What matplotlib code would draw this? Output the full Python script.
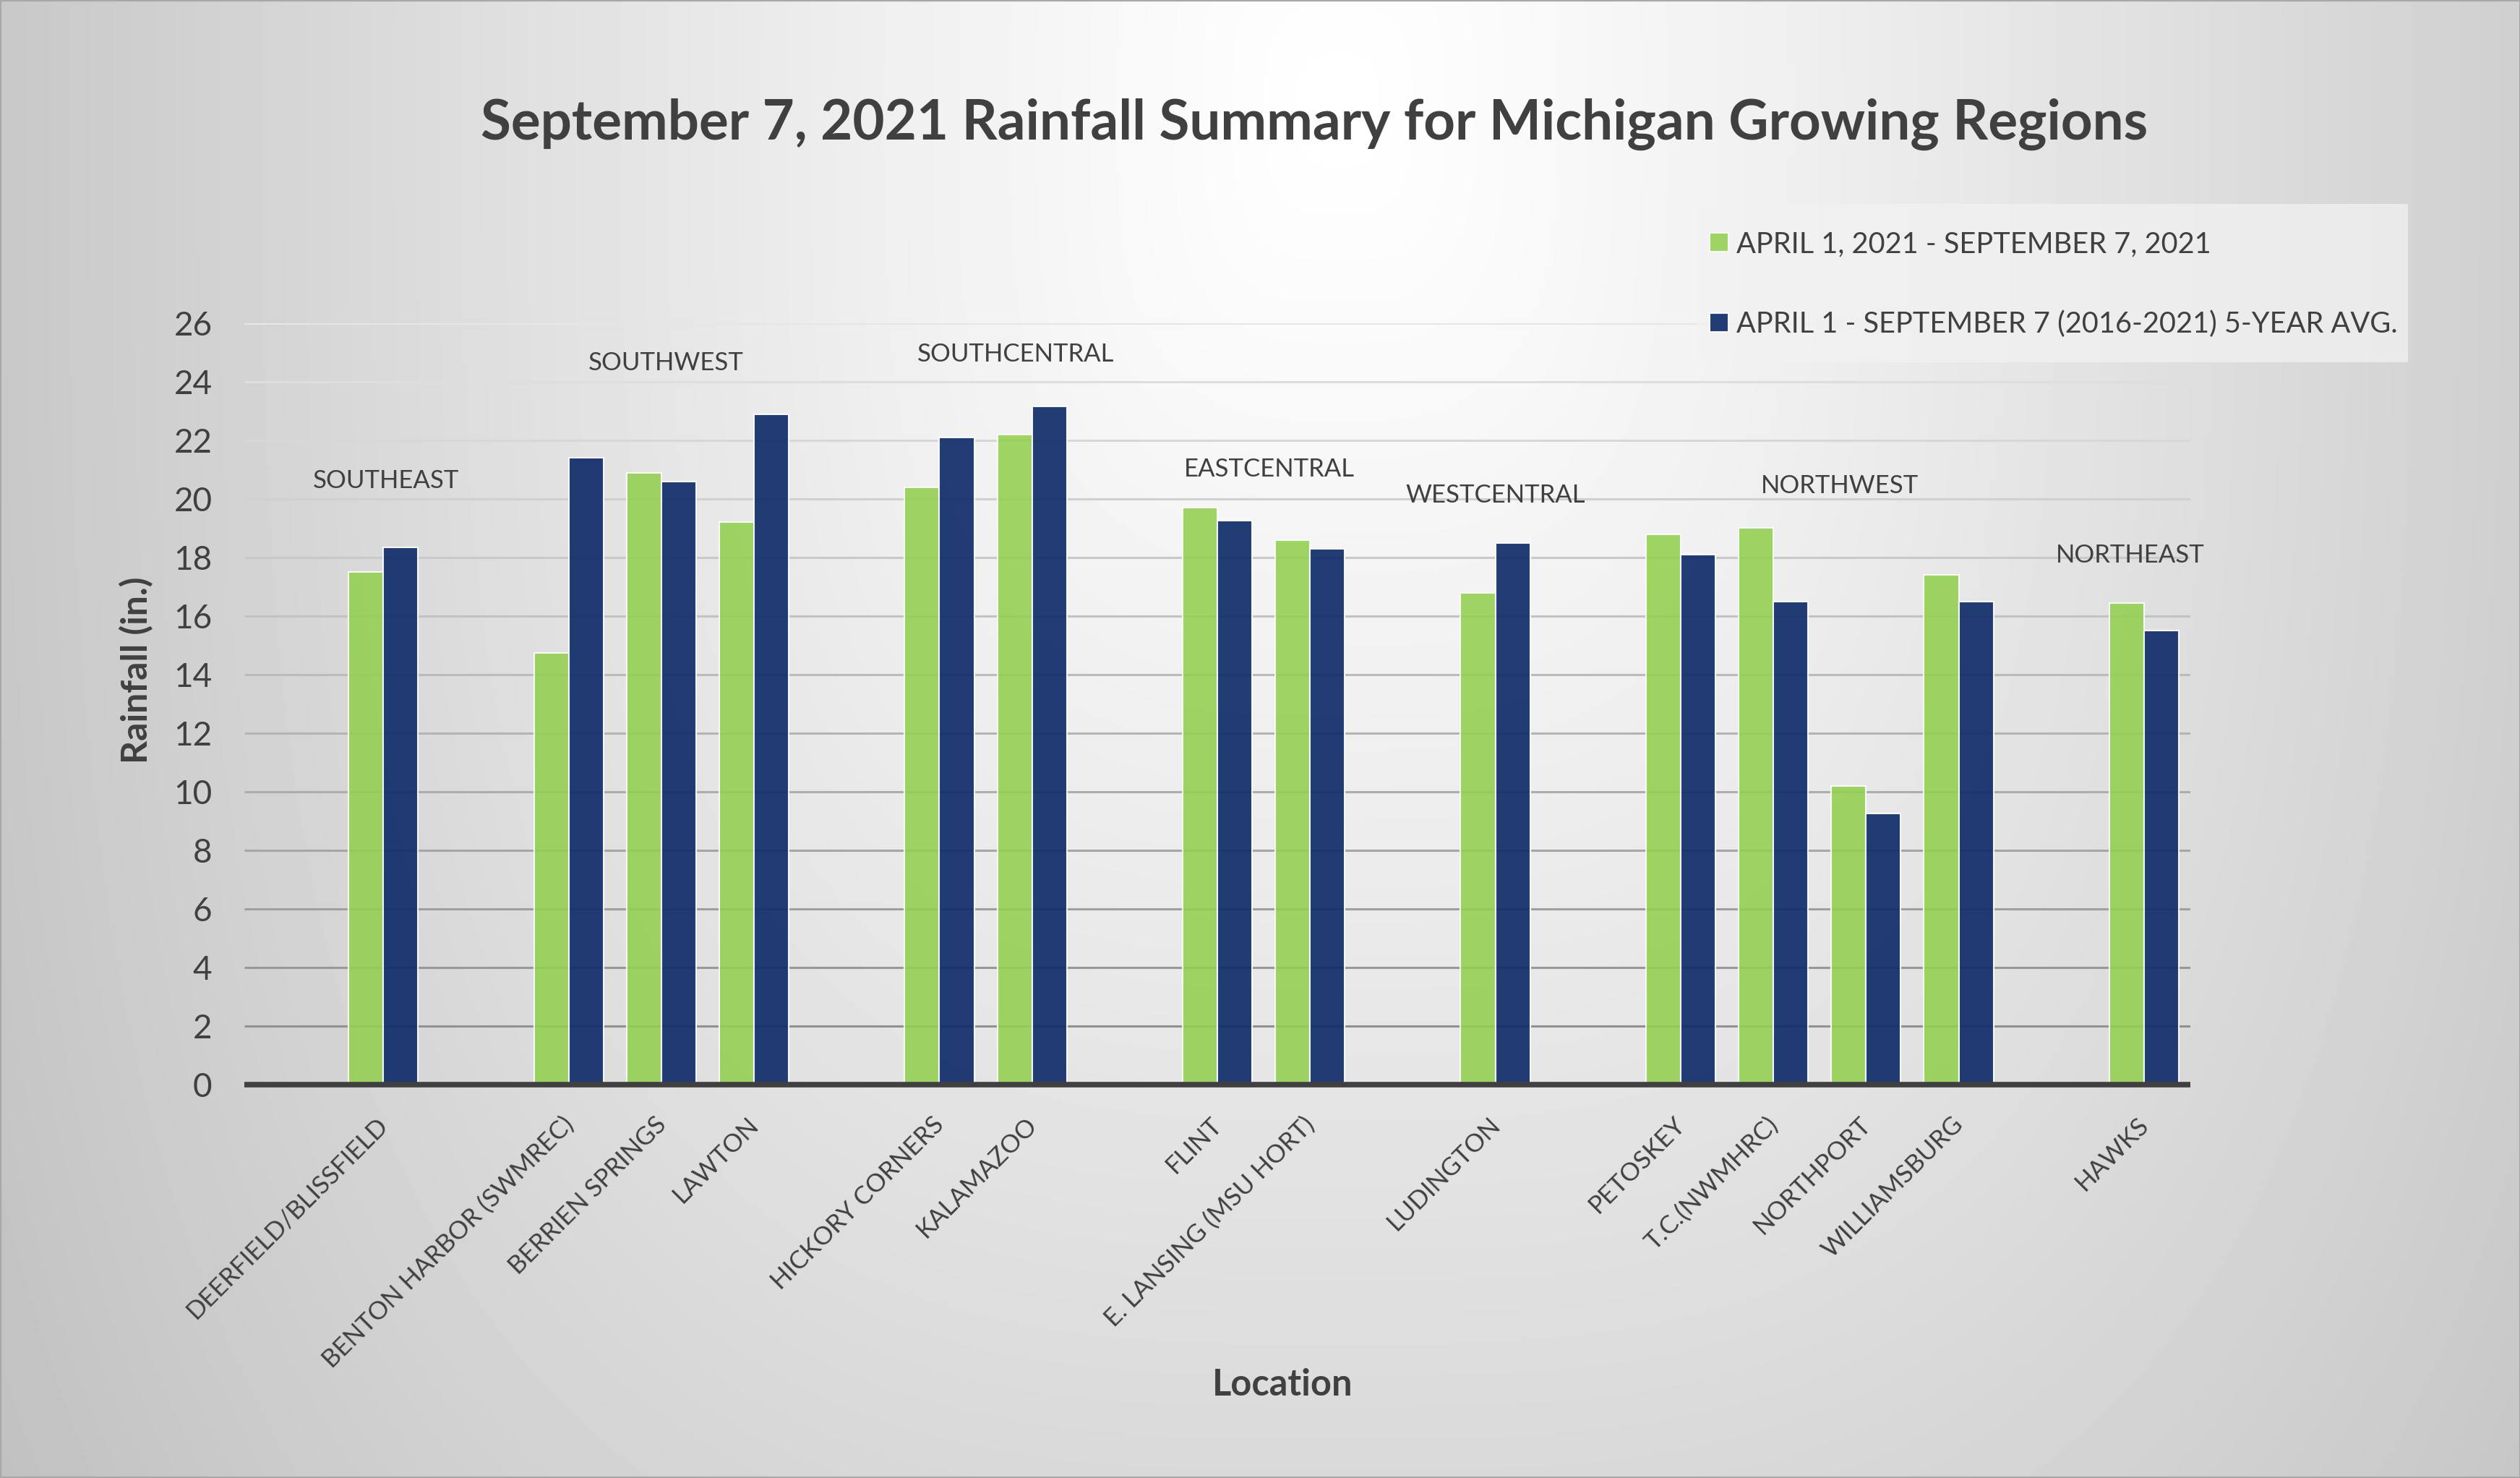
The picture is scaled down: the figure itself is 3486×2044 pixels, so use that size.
import numpy as np
import matplotlib
matplotlib.use("Agg")
import matplotlib.pyplot as plt
from matplotlib.patches import Rectangle
from matplotlib.transforms import ScaledTranslation

W, H = 3487, 2044

locations = ["", "DEERFIELD/BLISSFIELD", "", "BENTON HARBOR (SWMREC)", "BERRIEN SPRINGS", "LAWTON", "",
             "HICKORY CORNERS", "KALAMAZOO", "", "FLINT", "E. LANSING (MSU HORT)", "", "LUDINGTON", "",
             "PETOSKEY", "T.C.(NWMHRC)", "NORTHPORT", "WILLIAMSBURG", "", "HAWKS"]
rain_2021 = [np.nan, 17.5, np.nan, 14.75, 20.9, 19.2, np.nan, 20.4, 22.2, np.nan, 19.7, 18.6, np.nan, 16.8, np.nan,
             18.8, 19.0, 10.2, 17.4, np.nan, 16.45]
rain_avg = [np.nan, 18.35, np.nan, 21.4, 20.6, 22.9, np.nan, 22.1, 23.15, np.nan, 19.25, 18.3, np.nan, 18.5, np.nan,
            18.1, 16.5, 9.25, 16.5, np.nan, 15.5]
regions = ["SOUTHEAST", "SOUTHWEST", "SOUTHCENTRAL", "EASTCENTRAL", "WESTCENTRAL", "NORTHWEST", "NORTHEAST"]
region_x = [1.03, 4.05, 7.82, 10.56, 13.0, 16.72, 19.85]
region_y = [20.62, 24.65, 24.95, 21.0, 20.12, 20.45, 18.08]
y_ticks = list(range(0, 27, 2))

GREEN = "#92d050"
NAVY = "#0f2d69"
TEXT = "#404040"

plt.rcParams["font.family"] = ["Lato", "DejaVu Sans"]

fig = plt.figure(figsize=(W / 100, H / 100), dpi=100)

# slide style background, bright at the top middle and grey towards the edges
bg = fig.add_axes([0, 0, 1, 1])
yy, xx = np.mgrid[0:H:4, 0:W:4]
dx = np.abs(xx - 1850) / 1850
dy = np.abs(yy - 150) / 1900
shade = 255 - 55 * ((dx ** 3 + (0.73 * dy) ** 3) ** (1 / 3)) ** 1.15
bg.imshow(shade, cmap="gray", vmin=0, vmax=255, extent=[0, W, H, 0], aspect="auto")
bg.set_xlim(0, W)
bg.set_ylim(H, 0)
for s in bg.spines.values():
    s.set_color("#a8a8a8")
    s.set_linewidth(3)
bg.set_xticks([])
bg.set_yticks([])

ax = fig.add_axes([338 / W, 1 - 1500 / H, (3030 - 338) / W, (1500 - 447) / H])
ax.patch.set_alpha(0)

x = np.arange(len(locations))
bw = 0.375
ax.bar(x - bw / 2, rain_2021, bw, color=GREEN, alpha=0.88, edgecolor="white", linewidth=1.5,
       label="APRIL 1, 2021 - SEPTEMBER 7, 2021", zorder=3)
ax.bar(x + bw / 2, rain_avg, bw, color=NAVY, alpha=0.92, edgecolor="white", linewidth=1.5,
       label="APRIL 1 - SEPTEMBER 7 (2016-2021) 5-YEAR AVG.", zorder=3)

ax.set_xlim(-0.5, 20.5)
ax.set_ylim(0, 26)
ax.set_yticks(y_ticks)
ax.set_xticks(x)
ax.set_xticklabels(locations, rotation=45, ha="right", va="top", rotation_mode="anchor",
                   fontsize=25, color=TEXT)
ax.tick_params(axis="x", length=0, pad=28)
ax.tick_params(axis="y", length=0, pad=32, labelsize=33, labelcolor=TEXT)

# nudge the slanted labels left
shift = ScaledTranslation(-10 / 100, 0, fig.dpi_scale_trans)
for label in ax.get_xticklabels():
    label.set_transform(label.get_transform() + shift)

# gridlines fade out going up the chart
ax.grid(axis="y", zorder=1, linewidth=2.2)
for tick, line in zip(y_ticks, ax.yaxis.get_gridlines()):
    level = 0.54 + 0.36 * tick / 26
    line.set_color((level, level, level))
    line.set_solid_capstyle("butt")

for s in ["top", "left", "right"]:
    ax.spines[s].set_visible(False)
ax.spines["bottom"].set_color(TEXT)
ax.spines["bottom"].set_linewidth(5.5)
ax.spines["bottom"].set_capstyle("butt")
ax.spines["bottom"].set_zorder(4)

for name, rx, ry in zip(regions, region_x, region_y):
    ax.text(rx, ry, name, ha="center", va="center", fontsize=25, color=TEXT, zorder=5)

ax.set_ylabel("Rainfall (in.)", fontsize=36, fontweight="bold", color=TEXT)
ax.yaxis.set_label_coords((212 - 338) / (3030 - 338), (1500 - 927) / (1500 - 447))
fig.text(1774 / W, 1 - 1915 / H, "Location", ha="center", va="center", fontsize=36.4, fontweight="bold", color=TEXT)
fig.text(1818 / W, 1 - 172 / H, "September 7, 2021 Rainfall Summary for Michigan Growing Regions",
         ha="center", va="center", fontsize=55, fontweight="bold", color=TEXT)

ax.add_patch(Rectangle((2348 / W, 1 - 501 / H), (3331 - 2348) / W, (501 - 282) / H, transform=fig.transFigure,
                       facecolor="#f2f2f2", edgecolor="none", alpha=0.75, clip_on=False, zorder=6))
leg = ax.legend(loc="upper left", bbox_to_anchor=(2365 / W, 1 - 319 / H), bbox_transform=fig.transFigure,
                fontsize=28.6, labelcolor=TEXT, frameon=False, handlelength=0.65, handleheight=0.65,
                handletextpad=0.28, labelspacing=1.85, borderpad=0, borderaxespad=0)
leg.set_zorder(7)

fig.savefig("out.png", dpi=100)
